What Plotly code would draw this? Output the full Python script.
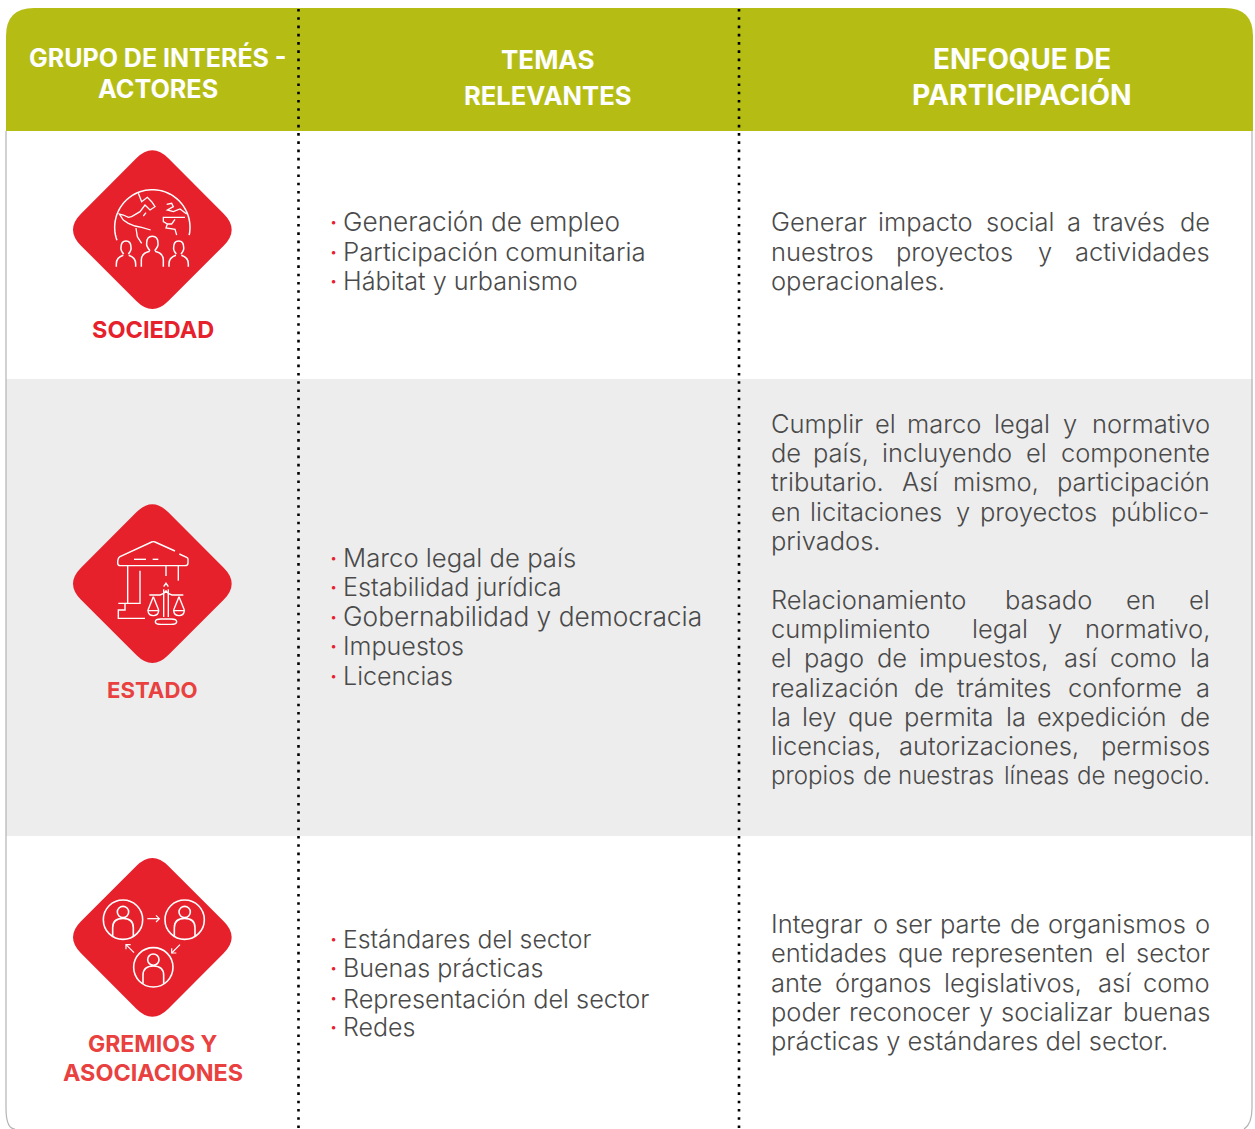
import re
import numpy as np
import plotly.graph_objects as go

# ---------- content ----------
HEADERS = [["GRUPO DE INTERÉS -", "ACTORES"], ["TEMAS", "RELEVANTES"], ["ENFOQUE DE", "PARTICIPACIÓN"]]
HEADER_SIZES = [[25.0, 25.2], [26, 25.6], [27.8, 28.3]]
GROUPS = [["SOCIEDAD"], ["ESTADO"], ["GREMIOS Y", "ASOCIACIONES"]]
GROUP_SIZES = [[23.5], [22.2], [23, 23.4]]
TOPICS_SOCIEDAD = ["Generación de empleo", "Participación comunitaria", "Hábitat y urbanismo"]
SIZES_SOCIEDAD = [26.2, 25.8, 25.2]
TOPICS_ESTADO = ["Marco legal de país", "Estabilidad jurídica", "Gobernabilidad y democracia", "Impuestos", "Licencias"]
SIZES_ESTADO = [25.7, 25.2, 26.3, 25.1, 25.1]
TOPICS_GREMIOS = ["Estándares del sector", "Buenas prácticas", "Representación del sector", "Redes"]
SIZES_GREMIOS = [24.8, 25.1, 25.3, 25.0]
APPROACH_SOCIEDAD = [
    "Generar impacto social a través de",
    "nuestros proyectos y actividades",
    "operacionales.",
]
APPROACH_ESTADO_1 = [
    "Cumplir el marco legal y normativo",
    "de país, incluyendo el componente",
    "tributario. Así mismo, participación",
    "en licitaciones y proyectos público-",
    "privados.",
]
APPROACH_ESTADO_2 = [
    "Relacionamiento basado en el",
    "cumplimiento  legal y normativo,",
    "el pago de impuestos, así como la",
    "realización de trámites conforme a",
    "la ley que permita la expedición de",
    "licencias, autorizaciones, permisos",
    "propios de nuestras líneas de negocio.",
]
APPROACH_GREMIOS = [
    "Integrar o ser parte de organismos o",
    "entidades que representen el sector",
    "ante órganos legislativos, así como",
    "poder reconocer y socializar buenas",
    "prácticas y estándares del sector.",
]

# ---------- style ----------
OLIVE = "#b5bd14"
RED = "#e7212c"
GREY_BG = "#ededed"
TEXT = "#4a4a4a"
BORDER = "#b4b4b4"
FONT = "Inter"
W, H = 1255, 1129
TEXT_SIZE = 25.5
MIN_GAP = 6.5
EM = dict(a=.56, b=.61, c=.56, d=.61, e=.58, f=.35, g=.61, h=.59, i=.25, j=.25, k=.55, l=.25, m=.87,
          n=.59, o=.60, p=.61, q=.61, r=.37, s=.52, t=.36, u=.59, v=.56, w=.82, x=.55, y=.56, z=.55)
EM.update({"á": .56, "é": .58, "í": .27, "ó": .60, "ú": .59, ".": .28, ",": .28, "-": .42, "I": .28, "A": .68})


def word_width(word, size=TEXT_SIZE):
    return sum(EM.get(c, .68) for c in word) * size


annotations = []
shapes = []


def text(x, y, s, size=TEXT_SIZE, color=TEXT, anchor="left", weight=300):
    annotations.append(dict(x=x, y=y, text=s, showarrow=False, xanchor=anchor, yanchor="middle",
                            xref="x", yref="y", borderpad=0, borderwidth=0,
                            font=dict(family=FONT, size=size, color=color, weight=weight)))


def justified(lines, ys, x0=771, x1=1210, last_left=True):
    for i, (line, y) in enumerate(zip(lines, ys)):
        words = line.split(" ")
        if last_left and i == len(lines) - 1:
            text(x0, y - 1, line)
            continue
        size = TEXT_SIZE
        total = sum(word_width(w, size) for w in words)
        room = x1 - x0 - MIN_GAP * (len(words) - 1)
        if total > room:
            size = size * room / total
        widths = [word_width(w, size) for w in words]
        gap = (x1 - x0 - sum(widths)) / (len(words) - 1)
        x = x0
        for j, (w, wd) in enumerate(zip(words, widths)):
            if w:
                if j == len(words) - 1:
                    text(x1, y - 1, w, size=size, anchor="right")
                else:
                    text(x, y - 1, w, size=size)
            x += wd + gap


def bullets(items, sizes, ys):
    for item, size, y in zip(items, sizes, ys):
        text(333, y, "•", size=11, color=RED, anchor="center", weight=700)
        # sizes below 25.5 round the text box differently: keep all baselines on the same grid
        text(343, y - (0 if size < 25.5 else 1), item, size=size)


# ---------- backgrounds ----------
def add_path(d, fill=None, color=None, width=0):
    s = dict(type="path", path=d, xref="x", yref="y", line=dict(width=width, color=color or "rgba(0,0,0,0)"))
    if fill:
        s["fillcolor"] = fill
    shapes.append(s)


add_path("M6,379 H1253 V836 H6 Z", fill=GREY_BG)
add_path("M6,131 V1108 Q6,1129 15,1129", color=BORDER, width=1.2)
add_path("M1252,131 V1108 Q1252,1124 1244,1129", color=BORDER, width=1.2)
add_path("M6,131 V36 Q6,8 34,8 H1225 Q1253,8 1253,36 V131 Z", fill=OLIVE)
for xv in (298.5, 739):
    shapes.append(dict(type="line", x0=xv, x1=xv, y0=9, y1=1129, xref="x", yref="y",
                       line=dict(color="#000000", width=2.6, dash="2.6px,5.67px")))


# ---------- icons: coordinates written in local icon units (1 unit = 1/3 px) ----------
def local(d, ox, oy):
    toks = re.findall(r"[A-Za-z]|-?\d+\.?\d*", d)
    out, k, cmd = [], 0, "M"
    for t in toks:
        if t.isalpha():
            out.append(t)
            cmd, k = t, 0
        else:
            is_x = cmd == "H" or (cmd != "V" and k % 2 == 0)
            out.append(f"{(ox if is_x else oy) + float(t) / 3:.2f}")
            k += 1
    return " ".join(out)


def stroke(d, ox, oy, w=1.5):
    add_path(local(d, ox, oy), color="#ffffff", width=w)


def arc(cx, cy, r, a0, a1, n=50):
    ang = np.radians(np.linspace(a0, a1, n))
    return "M" + " L".join(f"{cx + r * np.cos(a):.1f},{cy + r * np.sin(a):.1f}" for a in ang)


def circle(cx, cy, r, ox, oy, w=1.5):
    shapes.append(dict(type="circle", xref="x", yref="y", x0=ox + (cx - r) / 3, x1=ox + (cx + r) / 3,
                       y0=oy + (cy - r) / 3, y1=oy + (cy + r) / 3, line=dict(color="#ffffff", width=w)))


def diamond(ox, oy, cy):
    S, rr = 262, 48
    cx = 277
    d = (f"M{cx - rr},{cy - S + rr} Q{cx},{cy - S} {cx + rr},{cy - S + rr} "
         f"L{cx + S - rr},{cy - rr} Q{cx + S},{cy} {cx + S - rr},{cy + rr} "
         f"L{cx + rr},{cy + S - rr} Q{cx},{cy + S} {cx - rr},{cy + S - rr} "
         f"L{cx - S + rr},{cy + rr} Q{cx - S},{cy} {cx - S + rr},{cy - rr} Z")
    add_path(local(d, ox, oy), fill=RED)


# Sociedad
ox, oy = 60, 140
diamond(ox, oy, 269)
stroke(arc(277, 262, 113, 160, 372), ox, oy)
for d in [
    "M235,160 L245,185 L262,172 L275,185 L285,200 L270,210 L255,195 L240,215 L215,230 L205,232 L190,225 L178,222 "
    "L190,240 L205,250 L225,258 L245,262 L272,270",
    "M228,264 L232,290 L245,310", "M250,228 L258,218",
    "M320,193 L335,190 L340,200 L322,210 L340,215 L360,207 L380,222",
    "M375,232 L310,232 L310,245 L322,252 L318,264 L345,268 L350,285",
    "M345,238 L335,252 L322,252",
]:
    stroke(d, ox, oy, 1.3)
for hx, hy, hr, sw, top in [(198, 322, 15, 29, 346), (277, 310, 17, 33, 334), (356, 322, 15, 29, 346)]:
    stroke(f"M{hx - 7},{hy + hr + 5} Q{hx - hr - 2},{hy + 8} {hx - hr},{hy} Q{hx - hr},{hy - hr - 4} {hx},{hy - hr - 4} "
           f"Q{hx + hr},{hy - hr - 4} {hx + hr},{hy} Q{hx + hr + 2},{hy + 8} {hx + 7},{hy + hr + 5}", ox, oy)
    stroke(f"M{hx - sw},380 V{top + 26} Q{hx - sw},{top + 6} {hx - 8},{top} M{hx + 8},{top} "
           f"Q{hx + sw},{top + 6} {hx + sw},{top + 26} V380", ox, oy)

# Estado
ox, oy = 60, 495
diamond(ox, oy, 266)
for d in [
    "M345,168 L285,141 Q280,139 275,141 L180,185 Q173,189 173,204 Q173,212 181,212 H375 Q384,212 384,204 V192 Q384,189 380,187 L358,177",
    "M222,193 H258", "M278,193 H295",
    "M203,212 V325 H175", "M203,325 H240 V227", "M195,327 V345 H175 V370 H255",
    "M318,212 V243", "M355,212 V257",
    "M311,283 V366", "M325,283 V366", "M311,275 L318,265 L325,275",
    "M268,300 H300 Q311,298 318,288 Q325,298 336,300 H370",
    "M280,305 L264,345", "M280,305 L296,345", "M264,347 H296 Q295,362 280,362 Q265,362 264,347 Z",
    "M357,305 L341,345", "M357,305 L373,345", "M341,347 H373 Q372,362 357,362 Q342,362 341,347 Z",
    "M286,380 Q286,372 303,372 H333 Q350,372 350,380 Q350,388 333,388 H303 Q286,388 286,380 Z",
]:
    stroke(d, ox, oy, 1.4)

# Gremios
ox, oy = 60, 850
diamond(ox, oy, 262)
for cx, cy in [(189, 209), (374, 209), (280, 352)]:
    circle(cx, cy, 59, ox, oy, 1.6)
    circle(cx, cy - 23, 17, ox, oy, 1.6)
    stroke(f"M{cx - 31},{cy + 49} V{cy + 24} Q{cx - 31},{cy - 4} {cx},{cy - 4} Q{cx + 31},{cy - 4} {cx + 31},{cy + 24} V{cy + 49}",
           ox, oy, 1.6)
for d in ["M262,206 H298", "M288,196 L298,206 L288,216",
          "M360,284 L335,309", "M335,295 L335,309 L349,309",
          "M222,308 L198,284", "M198,298 L198,284 L212,284"]:
    stroke(d, ox, oy, 1.2)

# ---------- text ----------
for lines, sizes, cx, ys in [(HEADERS[0], HEADER_SIZES[0], 157.5, (57, 89)), (HEADERS[1], HEADER_SIZES[1], 547, (59, 95)),
                             (HEADERS[2], HEADER_SIZES[2], 1022, (59, 95))]:
    for s, size, y in zip(lines, sizes, ys):
        text(cx, y, f"<b>{s}</b>", size=size, color="#ffffff", anchor="center", weight=700)

for lines, sizes, ys, col in [(GROUPS[0], GROUP_SIZES[0], (330,), "#e7212c"), (GROUPS[1], GROUP_SIZES[1], (690,), "#e94040"),
                              (GROUPS[2], GROUP_SIZES[2], (1044, 1073), "#e94040")]:
    for s, size, y in zip(lines, sizes, ys):
        text(152.5, y - 0.5, f"<b>{s}</b>", size=size, color=col, anchor="center", weight=700)

bullets(TOPICS_SOCIEDAD, SIZES_SOCIEDAD, (222, 252, 281))
bullets(TOPICS_ESTADO, SIZES_ESTADO, (558, 587, 617, 646, 676))
bullets(TOPICS_GREMIOS, SIZES_GREMIOS, (939, 968, 998, 1027))
justified(APPROACH_SOCIEDAD, (222, 252, 281))
justified(APPROACH_ESTADO_1, (424, 453, 482, 512, 541))
justified(APPROACH_ESTADO_2, (600, 629, 658, 688, 717, 746, 776), last_left=False)
justified(APPROACH_GREMIOS, (924, 953, 983, 1012, 1041))

fig = go.Figure()
fig.update_layout(
    width=W, height=H, margin=dict(l=0, r=0, t=0, b=0), paper_bgcolor="#ffffff", plot_bgcolor="#ffffff",
    xaxis=dict(range=[0, W], visible=False, fixedrange=True),
    yaxis=dict(range=[H, 0], visible=False, fixedrange=True),
    shapes=shapes, annotations=annotations, showlegend=False,
)
fig.write_html("out.html", config={"displayModeBar": False},
               post_script="document.body.style.margin='0';document.documentElement.style.overflow='hidden';")
